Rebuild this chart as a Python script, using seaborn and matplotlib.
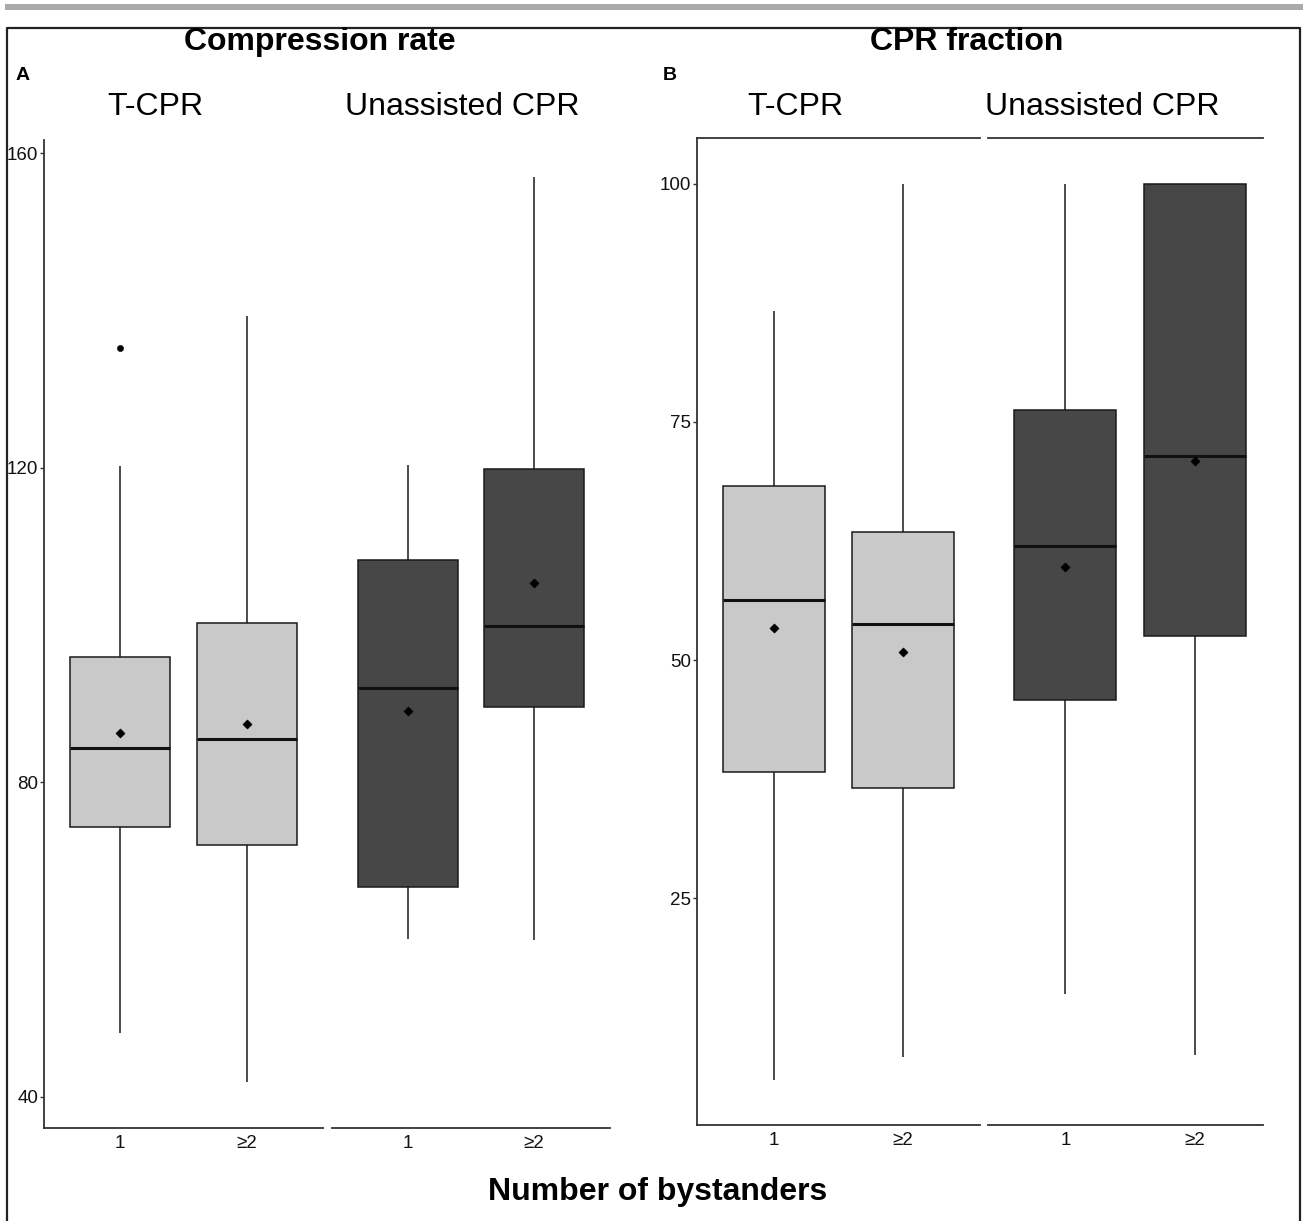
import matplotlib
matplotlib.use("Agg")
import matplotlib.pyplot as plt
from matplotlib.lines import Line2D
from matplotlib.patches import Rectangle
import numpy as np
import pandas as pd
import seaborn as sns

methods = ["T-CPR", "Unassisted CPR"]
bystanders = ["1", "\u22652"]

# Compression rate (panel A), order: T-CPR 1, T-CPR >=2, Unassisted 1, Unassisted >=2
rate_whislo = [48.1, 41.8, 60.1, 59.9]
rate_q1 = [74.3, 72.0, 66.6, 89.5]
rate_med = [84.3, 85.5, 92.0, 99.9]
rate_q3 = [95.9, 100.2, 108.3, 119.8]
rate_whishi = [120.2, 139.3, 120.3, 157.0]
rate_mean = [86.2, 87.4, 89.0, 105.3]
rate_outlier_group = ["T-CPR", "1"]
rate_outlier = [135.2]

# CPR fraction (panel B)
frac_whislo = [5.9, 8.3, 14.9, 8.5]
frac_q1 = [38.3, 36.6, 45.8, 52.5]
frac_med = [56.3, 53.8, 62.0, 71.4]
frac_q3 = [68.3, 63.4, 76.3, 100.0]
frac_whishi = [86.6, 100.0, 100.0, 100.0]
frac_mean = [53.4, 50.9, 59.8, 70.9]

rate_ticks = [40, 80, 120, 160]
frac_ticks = [25, 50, 75, 100]


def long_frame(lo, q1, med, q3, hi):
    rows = []
    k = 0
    for m in methods:
        for b in bystanders:
            for v in (lo[k], q1[k], med[k], q3[k], hi[k]):
                rows.append({"method": m, "bystanders": b, "value": v})
            k += 1
    return pd.DataFrame(rows)


def mean_frame(means):
    rows = []
    k = 0
    for m in methods:
        for b in bystanders:
            rows.append({"method": m, "bystanders": b, "value": means[k]})
            k += 1
    return pd.DataFrame(rows)


rate_df = long_frame(rate_whislo, rate_q1, rate_med, rate_q3, rate_whishi)
frac_df = long_frame(frac_whislo, frac_q1, frac_med, frac_q3, frac_whishi)
rate_means = mean_frame(rate_mean)
frac_means = mean_frame(frac_mean)
rate_out = pd.DataFrame({"method": rate_outlier_group[0],
                         "bystanders": rate_outlier_group[1],
                         "value": rate_outlier})

sns.set_theme(style="white")
plt.rcParams["font.family"] = ["Liberation Sans", "DejaVu Sans"]
plt.rcParams["text.color"] = "black"

W, H = 1303, 1221
fig = plt.figure(figsize=(W / 100, H / 100), dpi=100)


def px_axes(x0, x1, y0, y1):
    return fig.add_axes([x0 / W, 1 - y1 / H, (x1 - x0) / W, (y1 - y0) / H])


fill = {"T-CPR": "#c9c9c9", "Unassisted CPR": "#474747"}
spine_c = "#333333"

panels = [
    # data, means, ylim, ticks, axes pixel boxes, xlims, top border
    (rate_df, rate_means, (36.0, 161.7), rate_ticks,
     [(44, 323, 140, 1128), (332, 610, 140, 1128)],
     [(-0.6, 1.6), (-0.6, 1.6)], False),
    (frac_df, frac_means, (1.2, 104.8), frac_ticks,
     [(697, 980, 138, 1125), (988, 1263, 138, 1125)],
     [(-0.6, 1.6), (-0.6, 1.53)], True),
]

for p, (df, means, ylim, ticks, boxes, xlims, top) in enumerate(panels):
    for j, m in enumerate(methods):
        ax = px_axes(*boxes[j])
        sub = df[df["method"] == m]
        sns.boxplot(
            data=sub, x="bystanders", y="value", order=bystanders,
            color=fill[m], saturation=1, width=0.79, whis=(0, 100),
            linecolor="#1a1a1a", linewidth=1.1, showcaps=False,
            showfliers=False, medianprops={"linewidth": 2.2, "color": "#111111"},
            ax=ax,
        )
        msub = means[means["method"] == m]
        sns.scatterplot(data=msub, x="bystanders", y="value", marker="D",
                        s=22, color="black", edgecolor="black", ax=ax, zorder=5)
        if p == 0 and m == rate_outlier_group[0]:
            sns.scatterplot(data=rate_out, x="bystanders", y="value", marker="o",
                            s=20, color="black", edgecolor="black", ax=ax, zorder=5)
        ax.set_xlim(*xlims[j])
        ax.set_ylim(*ylim)
        ax.set_xlabel("")
        ax.set_ylabel("")
        ax.set_facecolor("white")
        for s in ax.spines.values():
            s.set_visible(False)
            s.set_color(spine_c)
            s.set_linewidth(1.3)
        ax.spines["bottom"].set_visible(True)
        if top:
            ax.spines["top"].set_visible(True)
        ax.tick_params(axis="x", length=3, width=1, color=spine_c,
                       labelsize=13.5, pad=2, labelcolor="#111111")
        if j == 0:
            ax.spines["left"].set_visible(True)
            ax.set_yticks(ticks)
            ax.tick_params(axis="y", length=3, width=1, color=spine_c,
                           labelsize=13.5, pad=1, labelcolor="#111111", left=True)
        else:
            ax.set_yticks([])

# titles, strips and panel letters
fig.text(320 / W, 1 - 42 / H, "Compression rate", ha="center", va="center",
         fontsize=23, fontweight="bold")
fig.text(967 / W, 1 - 42 / H, "CPR fraction", ha="center", va="center",
         fontsize=23, fontweight="bold")
fig.text(16 / W, 1 - 76 / H, "A", ha="left", va="center", fontsize=14,
         fontweight="bold")
fig.text(663 / W, 1 - 76 / H, "B", ha="left", va="center", fontsize=14,
         fontweight="bold")
for x, lab in [(155, "T-CPR"), (462, "Unassisted CPR"),
               (795, "T-CPR"), (1102, "Unassisted CPR")]:
    fig.text(x / W, 1 - 107 / H, lab, ha="center", va="center", fontsize=23)
fig.text(658 / W, 1 - 1192 / H, "Number of bystanders", ha="center",
         va="center", fontsize=23, fontweight="bold")

# outer frame and grey rule
fig.add_artist(Rectangle((5 / W, 1 - 10 / H), 1 - 5 / W, 6 / H,
                         transform=fig.transFigure, color="#aaaaaa", lw=0))
fx0, fx1, fy1 = 7 / W, 1300 / W, 1 - 28 / H
fig.add_artist(Line2D([fx0, fx0, fx1, fx1], [0, fy1, fy1, 0],
                      transform=fig.transFigure, color="#222222", lw=1.6))

fig.savefig("out.png", dpi=100, facecolor="white")
